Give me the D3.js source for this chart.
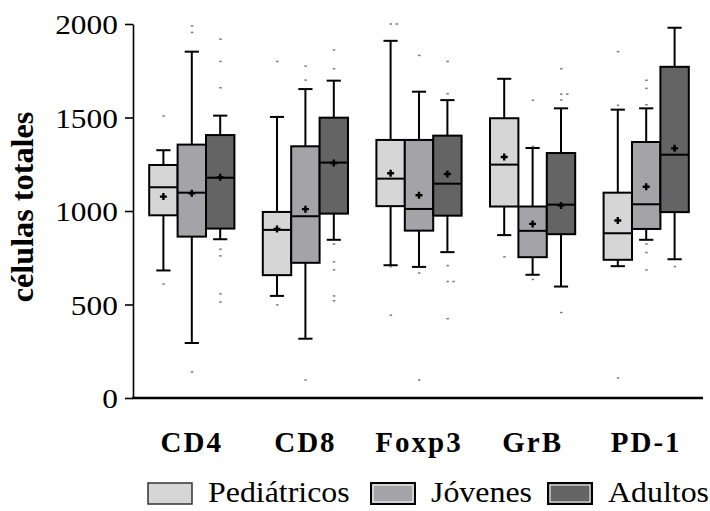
<!DOCTYPE html>
<html>
<head>
<meta charset="utf-8">
<script src="https://cdn.jsdelivr.net/npm/d3@7"></script>
<style>
  body { margin: 0; background: #fff; }
  text { font-family: 'Liberation Serif', 'Times New Roman', serif; fill: #000; }
</style>
</head>
<body>
<div id="chart"></div>
<script>
const categories = ['CD4', 'CD8', 'Foxp3', 'GrB', 'PD-1'];
const groups = ['Pediátricos', 'Jóvenes', 'Adultos'];
const colors = ['#d6d6d6', '#a4a3a8', '#646464'];
const yTicks = [0, 500, 1000, 1500, 2000];

// per category: [whiskerLow, q1, median, q3, whiskerHigh, mean]
const pediatricos = [
  [682, 977, 1127, 1246, 1325, 1077],
  [546, 657, 899, 995, 1503, 904],
  [710, 1026, 1173, 1380, 1910, 1202],
  [871, 1024, 1248, 1496, 1707, 1289],
  [705, 739, 881, 1098, 1542, 949]
];
const jovenes = [
  [294, 863, 1098, 1355, 1852, 1095],
  [317, 723, 972, 1346, 1652, 1010],
  [701, 895, 1011, 1380, 1638, 1084],
  [659, 753, 894, 1024, 1337, 931],
  [846, 904, 1036, 1369, 1549, 1130]
];
const adultos = [
  [849, 906, 1178, 1406, 1510, 1180],
  [846, 986, 1259, 1499, 1697, 1257],
  [780, 975, 1146, 1403, 1593, 1198],
  [596, 876, 1034, 1310, 1549, 1030],
  [742, 994, 1301, 1771, 1980, 1335]
];

// outlier points per category
const pediatricosOut = [[1508, 609], [1800, 498], [2000, 2000, 702, 443], [755], [1852, 1565, 107]];
const jovenesOut = [[1990, 1955, 140], [1775, 1700, 96], [1832, 668, 96], [1592, 1345, 634], [1699, 1656, 1568, 824, 778, 685]];
const adultosOut = [[1919, 1800, 1659, 796, 760, 557, 513], [1861, 1761, 823, 728, 685, 546, 520], [1800, 1627, 708, 623, 623, 424], [1761, 1625, 1625, 1593, 457], [703]];

const stats = [pediatricos, jovenes, adultos];
const outs = [pediatricosOut, jovenesOut, adultosOut];

const width = 710, height = 511;
const svg = d3.select('#chart').append('svg')
  .attr('width', width)
  .attr('height', height);

const y = d3.scaleLinear().domain([0, 2000]).range([398, 24]);
const x = d3.scaleBand()
  .domain(categories)
  .range([135, 703])
  .paddingInner(0.25)
  .paddingOuter(0.125);
const xg = d3.scaleBand().domain(groups).range([0, x.bandwidth()]);

// flatten into one record per box
const boxes = [];
categories.forEach((c, i) => {
  groups.forEach((g, j) => {
    const s = stats[j][i];
    boxes.push({
      cat: c, group: g, color: colors[j],
      lo: s[0], q1: s[1], med: s[2], q3: s[3], hi: s[4], mean: s[5],
      out: outs[j][i]
    });
  });
});

const bw = xg.bandwidth();

const gBox = svg.selectAll('.box')
  .data(boxes)
  .join('g')
  .attr('class', 'box')
  .attr('transform', d => `translate(${x(d.cat) + xg(d.group)}, 0)`);

// whiskers
gBox.append('line')
  .attr('x1', bw / 2).attr('x2', bw / 2)
  .attr('y1', d => y(d.hi)).attr('y2', d => y(d.q3))
  .attr('stroke', '#000').attr('stroke-width', 2);
gBox.append('line')
  .attr('x1', bw / 2).attr('x2', bw / 2)
  .attr('y1', d => y(d.q1)).attr('y2', d => y(d.lo))
  .attr('stroke', '#000').attr('stroke-width', 2);
gBox.selectAll('.cap')
  .data(d => [d.lo, d.hi])
  .join('line')
  .attr('class', 'cap')
  .attr('x1', bw / 4).attr('x2', bw * 3 / 4)
  .attr('y1', v => y(v)).attr('y2', v => y(v))
  .attr('stroke', '#000').attr('stroke-width', 2);

// box
gBox.append('rect')
  .attr('x', 0)
  .attr('width', bw)
  .attr('y', d => y(d.q3))
  .attr('height', d => y(d.q1) - y(d.q3))
  .attr('fill', d => d.color)
  .attr('stroke', '#000')
  .attr('stroke-width', 2);

// median
gBox.append('line')
  .attr('x1', 0).attr('x2', bw)
  .attr('y1', d => y(d.med)).attr('y2', d => y(d.med))
  .attr('stroke', '#000').attr('stroke-width', 2);

// mean (+)
gBox.append('path')
  .attr('d', d => {
    const cx = bw / 2, cy = y(d.mean);
    return `M${cx - 3.5},${cy}H${cx + 3.5}M${cx},${cy - 3.5}V${cy + 3.5}`;
  })
  .attr('stroke', '#000').attr('stroke-width', 2.4);

// outliers, tied values shifted sideways
gBox.selectAll('.out')
  .data(d => {
    const seen = {};
    return d.out.map(v => {
      seen[v] = (seen[v] || 0) + 1;
      return { v, k: seen[v] - 1 };
    });
  })
  .join('rect')
  .attr('class', 'out')
  .attr('x', o => bw / 2 - 1 + o.k * 6)
  .attr('y', o => y(o.v) - 0.75)
  .attr('width', 2.5)
  .attr('height', 1.5)
  .attr('fill', '#7a7a7a');

// y axis
const yAxis = d3.axisLeft(y)
  .tickValues(yTicks)
  .tickFormat(d3.format('d'))
  .tickSize(8)
  .tickSizeOuter(0)
  .tickPadding(5.5);
const gy = svg.append('g')
  .attr('transform', 'translate(133, 0)')
  .call(yAxis);
gy.select('.domain').attr('stroke-width', 1.6);
gy.selectAll('.tick line').attr('stroke-width', 1.6);
gy.selectAll('text')
  .attr('font-size', 28)
  .attr('fill', '#000')
  .attr('dy', '0.34em')
  .attr('transform', 'scale(1.12, 1)');

// x axis line
svg.append('line')
  .attr('x1', 132).attr('x2', x.range()[1])
  .attr('y1', y(0)).attr('y2', y(0))
  .attr('stroke', '#000').attr('stroke-width', 2.5);

// category labels
svg.selectAll('.catLabel')
  .data(categories)
  .join('text')
  .attr('class', 'catLabel')
  .attr('x', d => x(d) + x.bandwidth() / 2)
  .attr('y', 452)
  .attr('text-anchor', 'middle')
  .attr('font-size', 29)
  .attr('font-weight', 'bold')
  .attr('letter-spacing', 2)
  .text(d => d);

// y title
svg.append('text')
  .attr('transform', 'translate(33, 207) rotate(-90) scale(1.04, 1)')
  .attr('text-anchor', 'middle')
  .attr('font-size', 31)
  .attr('font-weight', 'bold')
  .text('células totales');

// legend
const legendX = [148, 371, 548];
groups.forEach((g, i) => {
  const lx = legendX[i];
  const item = svg.append('g');
  item.append('rect')
    .attr('x', lx).attr('y', 483)
    .attr('width', 44).attr('height', 21)
    .attr('fill', colors[i])
    .attr('stroke', i === 0 ? '#333' : '#000')
    .attr('stroke-width', i === 0 ? 1.5 : 2);
  if (i > 0) {
    item.append('rect')
      .attr('x', lx + 2).attr('y', 485)
      .attr('width', 40).attr('height', 17)
      .attr('fill', 'none')
      .attr('stroke', '#fff')
      .attr('stroke-width', 1);
  }
  item.append('text')
    .attr('transform', `translate(${lx + 60}, 502) scale(1.1, 1)`)
    .attr('font-size', 29)
    .text(g);
});
</script>
</body>
</html>
